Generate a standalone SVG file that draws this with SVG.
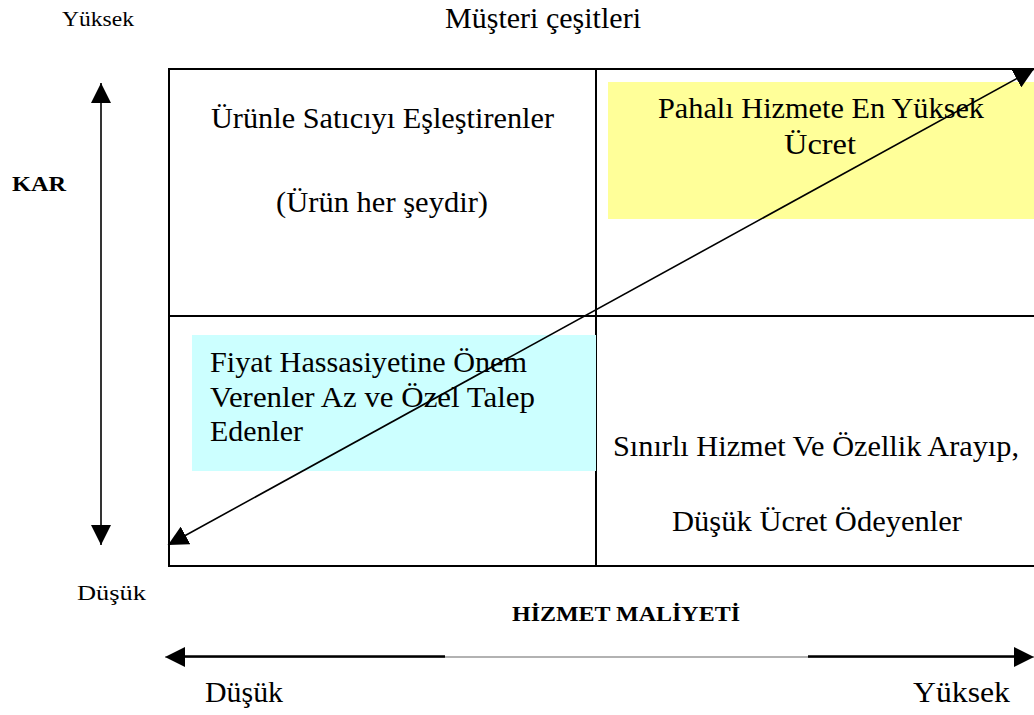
<svg xmlns="http://www.w3.org/2000/svg" width="1034" height="715" viewBox="0 0 1034 715">
<defs>
<style>
.t{font-family:"Liberation Serif","Times New Roman",serif;fill:#000;}
.m{font-size:29px;}
.s{font-size:20px;}
.b{font-weight:bold;font-size:21px;}
.ln{stroke:#000;stroke-width:1.6;fill:none;}
.grid{stroke:#000;stroke-width:2;fill:none;}
</style>
<marker id="ahb" viewBox="0 0 10 10" refX="10" refY="5" markerWidth="20" markerHeight="20" markerUnits="userSpaceOnUse" orient="auto-start-reverse">
<path d="M0,0 L10,5 L0,10 Z" fill="#000"/>
</marker>
</defs>
<rect width="1034" height="715" fill="#fff"/>

<g id="frame">
<rect class="grid" x="169" y="69" width="870" height="497"/>
<line class="grid" x1="596" y1="69" x2="596" y2="566"/>
<line class="grid" x1="169" y1="316" x2="1039" y2="316"/>
</g>

<g id="q-top-left">
<text class="t m" x="211" y="128" textLength="343" lengthAdjust="spacingAndGlyphs">Ürünle Satıcıyı Eşleştirenler</text>
<text class="t m" x="276" y="212" textLength="212" lengthAdjust="spacingAndGlyphs">(Ürün her şeydir)</text>
</g>

<g id="q-top-right">
<rect x="608" y="82" width="430" height="137" fill="#FFFF99"/>
<text class="t m" x="658" y="118" textLength="326" lengthAdjust="spacingAndGlyphs">Pahalı Hizmete En Yüksek</text>
<text class="t m" x="784" y="154" textLength="72" lengthAdjust="spacingAndGlyphs">Ücret</text>
</g>

<g id="q-bottom-left">
<rect x="192" y="335" width="404" height="136" fill="#CCFFFF"/>
<text class="t m" x="210" y="372" textLength="317" lengthAdjust="spacingAndGlyphs">Fiyat Hassasiyetine Önem</text>
<text class="t m" x="210" y="407" textLength="325" lengthAdjust="spacingAndGlyphs">Verenler Az ve Özel Talep</text>
<text class="t m" x="210" y="441" textLength="93" lengthAdjust="spacingAndGlyphs">Edenler</text>
</g>

<g id="q-bottom-right">
<text class="t m" x="613" y="456" textLength="406" lengthAdjust="spacingAndGlyphs">Sınırlı Hizmet Ve Özellik Arayıp,</text>
<text class="t m" x="672" y="531" textLength="290" lengthAdjust="spacingAndGlyphs">Düşük Ücret Ödeyenler</text>
</g>

<g id="labels">
<text class="t s" x="62" y="26" textLength="72" lengthAdjust="spacingAndGlyphs">Yüksek</text>
<text class="t m" x="445" y="28" textLength="196" lengthAdjust="spacingAndGlyphs">Müşteri çeşitleri</text>
<text class="t b" x="12" y="191" textLength="54" lengthAdjust="spacingAndGlyphs">KAR</text>
<text class="t s" x="77" y="600" textLength="69" lengthAdjust="spacingAndGlyphs">Düşük</text>
<text class="t b" x="512" y="621" textLength="228" lengthAdjust="spacingAndGlyphs">HİZMET MALİYETİ</text>
<text class="t m" x="205" y="702" textLength="78" lengthAdjust="spacingAndGlyphs">Düşük</text>
<text class="t m" x="913" y="702" textLength="97" lengthAdjust="spacingAndGlyphs">Yüksek</text>
</g>

<g id="connectors">
<line class="ln" x1="101" y1="83" x2="101" y2="545" marker-start="url(#ahb)" marker-end="url(#ahb)"/>
<line class="ln" x1="168" y1="545" x2="1034" y2="69" marker-start="url(#ahb)" marker-end="url(#ahb)"/>
<line x1="165" y1="657" x2="1034" y2="657" stroke="#999" stroke-width="1.5" marker-start="url(#ahb)" marker-end="url(#ahb)"/>
<line x1="178" y1="656.5" x2="445" y2="656.5" stroke="#000" stroke-width="2.5"/>
<line x1="808" y1="656.5" x2="1022" y2="656.5" stroke="#000" stroke-width="2.5"/>
</g>
</svg>
